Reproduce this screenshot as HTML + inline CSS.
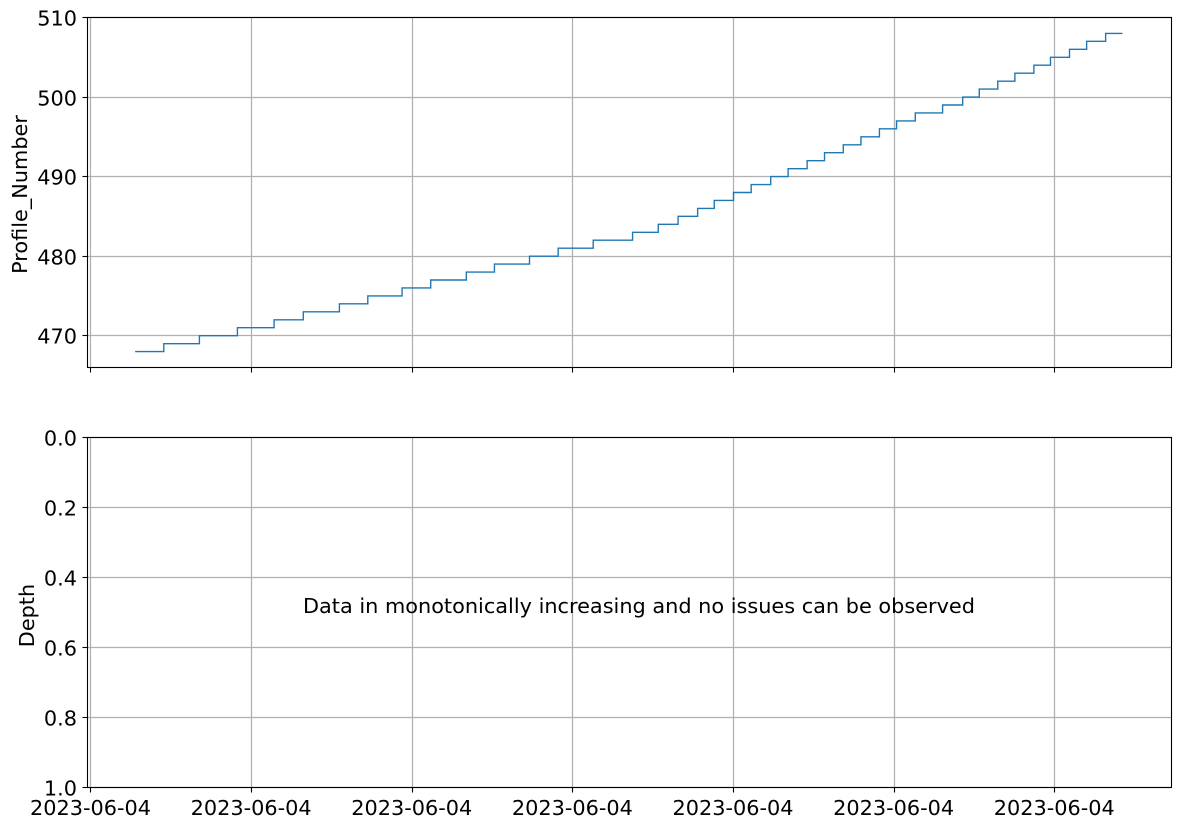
<!DOCTYPE html>
<html>
<head>
<meta charset="utf-8">
<style>
html,body{margin:0;padding:0;background:#fff;width:1181px;height:827px;overflow:hidden}
svg{display:block}
text{font-family:"DejaVu Sans",sans-serif;font-size:20.83px;fill:#000}
</style>
</head>
<body>
<svg id="chart" xmlns="http://www.w3.org/2000/svg" width="1181" height="827" viewBox="0 0 1181 827"></svg>
<script>
const stepMinutes = [16.5,27.2,40.5,54.7,68.4,79.3,92.8,103.4,116.2,126.9,140.2,150.7,163.8,174.5,187.6,202.3,211.9,219.3,226.6,232.8,240,246.6,253.9,260.4,267.5,274,281,287.6,294.5,300.9,307.9,318.1,325.6,331.8,338.7,345.1,352.2,358.4,365.5,371.9,379,385.3];
const profileNumbers = [468,469,470,471,472,473,474,475,476,477,478,479,480,481,482,483,484,485,486,487,488,489,490,491,492,493,494,495,496,497,498,499,500,501,502,503,504,505,506,507,508,508];
const xTickMinutes = [0,60,120,180,240,300,360];
const xTickLabels = ["2023-06-04","2023-06-04","2023-06-04","2023-06-04","2023-06-04","2023-06-04","2023-06-04"];
const profileTicks = [470,480,490,500,510];
const depthTicks = [0,0.2,0.4,0.6,0.8,1];
const depthTickLabels = ["0.0","0.2","0.4","0.6","0.8","1.0"];

const NS = "http://www.w3.org/2000/svg";
const svg = document.getElementById("chart");
const L = 87.5, R = 1171.5;
const T1 = 17.5, B1 = 367.5, T2 = 437.5, B2 = 787.5;
const xMin = -1.3, xMax = 403.6;
const yMin1 = 466, yMax1 = 510;

function xScale(v){ return L + (v - xMin) / (xMax - xMin) * (R - L); }
function yProfile(v){ return B1 - (v - yMin1) / (yMax1 - yMin1) * (B1 - T1); }
function yDepth(v){ return T2 + v * (B2 - T2); }
function px(v){ return Math.floor(v) + 0.5; }

function add(tag, attrs, parent, text){
  const el = document.createElementNS(NS, tag);
  for (const k in attrs) el.setAttribute(k, attrs[k]);
  if (text !== undefined) el.textContent = text;
  (parent || svg).appendChild(el);
  return el;
}
const BLACK = "#000", GRID = "#b0b0b0";

function drawAxes(name, top, bottom, yTicks, yLabels, yFn, showX){
  const g = add("g", {}, svg);
  
  
  const grid = add("g", {"stroke": GRID, "stroke-width": 1.25, "fill": "none"}, g);
  
  
  xTickMinutes.forEach(function(v){
    const x = px(xScale(v));
    add("line", {x1:x, x2:x, y1:top, y2:bottom}, grid);
  });
  yTicks.forEach(function(v){
    const y = px(yFn(v));
    add("line", {x1:L, x2:R, y1:y, y2:y}, grid);
  });
  const ticks = add("g", {"stroke": BLACK, "stroke-width": 1.1}, g);
  
  
  xTickMinutes.forEach(function(v){
    const x = px(xScale(v));
    add("line", {x1:x, x2:x, y1:bottom, y2:bottom + 5}, ticks);
  });
  yTicks.forEach(function(v, i){
    const y = px(yFn(v));
    add("line", {x1:L - 5, x2:L, y1:y, y2:y}, ticks);
    const t = add("text", {x:L - 10.5, y:y + 7.8, "text-anchor":"end", stroke:"none"}, g, yLabels[i]);
    
    
  });
  if (showX) {
    xTickMinutes.forEach(function(v, i){
      const t = add("text", {x:xScale(v) - 0.5, y:bottom + 27.5, "text-anchor":"middle"}, g, xTickLabels[i]);
      
      
    });
  }
  return g;
}
function drawFrame(name, top, bottom){
  const f = add("rect", {x:L, y:top, width:R - L, height:bottom - top, fill:"none", stroke:BLACK, "stroke-width":1.1});
  
  
}

const topAxes = drawAxes("profile-axes", T1, B1, profileTicks, profileTicks.map(String), yProfile, false);
const botAxes = drawAxes("depth-axes", T2, B2, depthTicks, depthTickLabels, yDepth, true);

let d = "";
stepMinutes.forEach(function(m, i){
  const x = xScale(m).toFixed(2);
  if (i === 0) {
    d += "M" + x + " " + yProfile(profileNumbers[i]).toFixed(2);
  } else {
    d += "H" + x + "V" + yProfile(profileNumbers[i]).toFixed(2);
  }
});
const line = add("path", {d:d, fill:"none", stroke:"#1f77b4", "stroke-width":1.39, "stroke-linejoin":"miter"}, topAxes);



drawFrame("profile-axes-frame", T1, B1);
drawFrame("depth-axes-frame", T2, B2);

const yt1 = add("text", {transform:"translate(27,194.5) rotate(-90)", "text-anchor":"middle"}, svg, "Profile_Number");


const yt2 = add("text", {transform:"translate(34,615.5) rotate(-90)", "text-anchor":"middle"}, svg, "Depth");


const note = add("text", {x:303, y:613}, svg, "Data in monotonically increasing and no issues can be observed");


</script>
</body>
</html>
